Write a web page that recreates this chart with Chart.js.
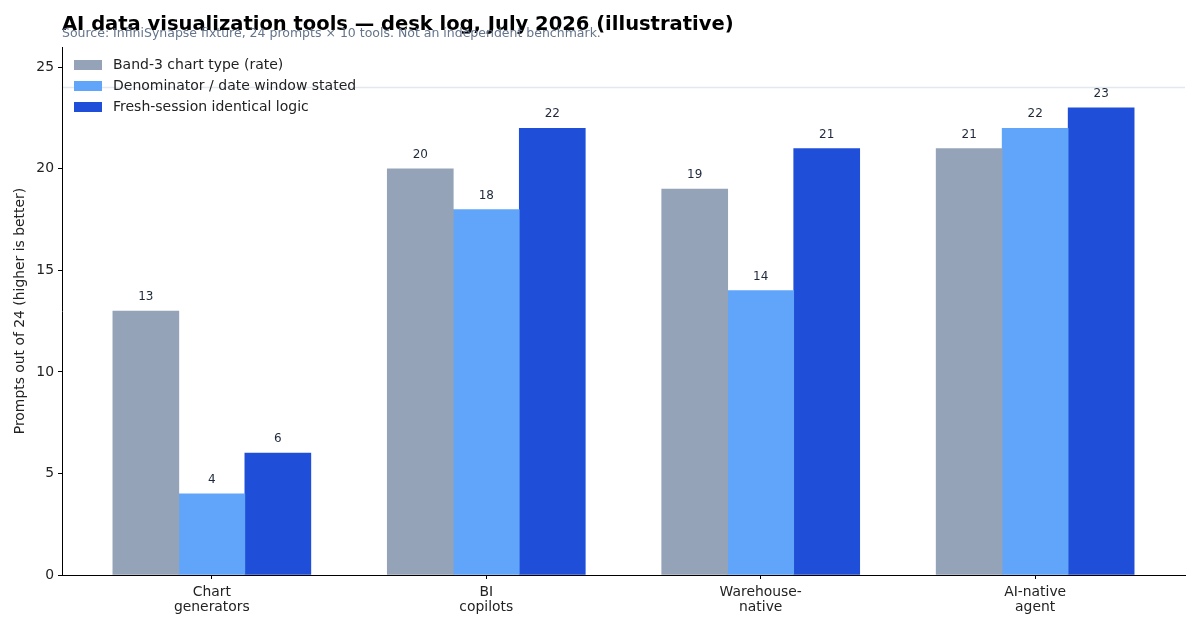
<!DOCTYPE html>
<html>
<head>
<meta charset="utf-8">
<script src="https://cdn.jsdelivr.net/npm/chart.js@4.4.1/dist/chart.umd.min.js"></script>
<style>
  html, body { margin: 0; padding: 0; background: #fff; }
  canvas { display: block; }
</style>
</head>
<body>
<canvas id="chart" width="1200" height="630"></canvas>
<script>
const categories = [["Chart", "generators"], ["BI", "copilots"], ["Warehouse-", "native"], ["AI-native", "agent"]];
const seriesNames = ["Band-3 chart type (rate)", "Denominator / date window stated", "Fresh-session identical logic"];
const band3Type = [13, 20, 19, 21];
const denominatorStated = [4, 18, 14, 22];
const freshSessionLogic = [6, 22, 21, 23];
const yTicks = [0, 5, 10, 15, 20, 25];
const promptTotal = 24;

const titleText = "AI data visualization tools \u2014 desk log, July 2026 (illustrative)";
const subtitleText = "Source: InfiniSynapse fixture, 24 prompts \u00d7 10 tools. Not an independent benchmark.";
const font = "'DejaVu Sans', sans-serif";
const colors = ["#94a3b8", "#60a5fa", "#1f4fd8"];

const toPoints = (values) => values.map((v, i) => ({ x: i, y: v }));

// light reference line at the maximum score, behind everything
const refLine = {
  id: "refLine",
  beforeDraw(chart) {
    const { ctx, chartArea, scales } = chart;
    const y = scales.y.getPixelForValue(promptTotal);
    ctx.save();
    ctx.strokeStyle = "#e2e8f0";
    ctx.lineWidth = 1.5;
    ctx.beginPath();
    ctx.moveTo(chartArea.left, y);
    ctx.lineTo(chartArea.right, y);
    ctx.stroke();
    ctx.restore();
  },
};

const barLabels = {
  id: "barLabels",
  afterDatasetsDraw(chart) {
    const { ctx } = chart;
    ctx.save();
    ctx.font = "12px " + font;
    ctx.fillStyle = "#1e293b";
    ctx.textAlign = "center";
    ctx.textBaseline = "middle";
    chart.data.datasets.forEach((ds, di) => {
      chart.getDatasetMeta(di).data.forEach((bar, i) => {
        ctx.fillText(String(ds.data[i].y), bar.x, bar.y - 14);
      });
    });
    ctx.restore();
  },
};

// legend in the upper left of the plot, matplotlib style
const cornerLegend = {
  id: "cornerLegend",
  afterDraw(chart) {
    const { ctx, chartArea } = chart;
    const x0 = chartArea.left + 12;
    const y0 = chartArea.top + 18;
    ctx.save();
    ctx.font = "14px " + font;
    ctx.textAlign = "left";
    ctx.textBaseline = "middle";
    chart.data.datasets.forEach((ds, i) => {
      const y = y0 + i * 21;
      ctx.fillStyle = ds.backgroundColor;
      ctx.fillRect(x0, y - 5, 28, 10);
      ctx.fillStyle = "#222";
      ctx.fillText(ds.label, x0 + 39, y);
    });
    ctx.restore();
  },
};

const headings = {
  id: "headings",
  afterDraw(chart) {
    const { ctx } = chart;
    ctx.save();
    ctx.textAlign = "left";
    ctx.textBaseline = "alphabetic";
    ctx.fillStyle = "#000";
    ctx.font = "bold 19.5px " + font;
    ctx.fillText(titleText, 62, 30);
    ctx.fillStyle = "#64748b";
    ctx.font = "12.5px " + font;
    ctx.fillText(subtitleText, 62, 37);
    ctx.restore();
  },
};

new Chart(document.getElementById("chart"), {
  type: "bar",
  data: {
    datasets: [
      { label: seriesNames[0], data: toPoints(band3Type), backgroundColor: colors[0] },
      { label: seriesNames[1], data: toPoints(denominatorStated), backgroundColor: colors[1] },
      { label: seriesNames[2], data: toPoints(freshSessionLogic), backgroundColor: colors[2] },
    ],
  },
  options: {
    responsive: false,
    devicePixelRatio: 1,
    animation: false,
    barThickness: 66,
    borderWidth: 0,
    layout: { padding: { left: 0, top: 47, right: 15, bottom: 0 } },
    plugins: {
      legend: { display: false },
      tooltip: { enabled: false },
    },
    scales: {
      x: {
        type: "linear",
        min: -0.546,
        max: 3.546,
        offset: false,
        afterFit: (scale) => { scale.height = 55; },
        border: { display: true, color: "#000", width: 1 },
        grid: { offset: false, drawOnChartArea: false, drawTicks: true, tickLength: 4, color: "#000" },
        ticks: {
          stepSize: 1,
          includeBounds: false,
          autoSkip: false,
          maxRotation: 0,
          padding: 6,
          color: "#222",
          font: { family: font, size: 13.9, lineHeight: 1.08 },
          callback: (v) => categories[v],
        },
      },
      y: {
        min: 0,
        max: 26,
        afterFit: (scale) => { scale.width = 62; },
        afterBuildTicks: (scale) => { scale.ticks = yTicks.map((v) => ({ value: v })); },
        border: { display: true, color: "#000", width: 1 },
        grid: { drawOnChartArea: false, drawTicks: true, tickLength: 4, color: "#000" },
        ticks: { padding: 4, color: "#222", font: { family: font, size: 13.9 } },
        title: {
          display: true,
          text: "Prompts out of 24 (higher is better)",
          color: "#222",
          font: { family: font, size: 13.9 },
          padding: { top: 12, bottom: 0 },
        },
      },
    },
  },
  plugins: [refLine, barLabels, cornerLegend, headings],
});
</script>
</body>
</html>
